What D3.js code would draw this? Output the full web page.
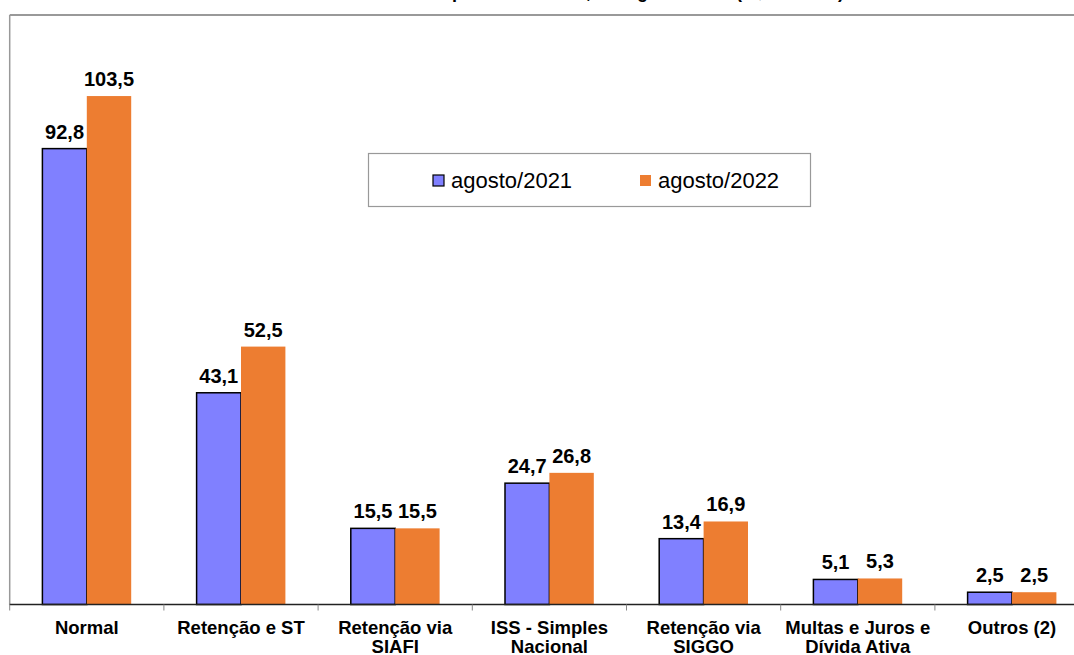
<!DOCTYPE html>
<html>
<head>
<meta charset="utf-8">
<script src="https://cdn.jsdelivr.net/npm/d3@7"></script>
<style>
  body { margin: 0; background: #fff; }
  svg { display: block; font-family: "Liberation Sans", Arial, sans-serif; }
</style>
</head>
<body>
<div id="chart"></div>
<script>
// data (R$ milhões)
const categories = [
  ["Normal"],
  ["Retenção e ST"],
  ["Retenção via", "SIAFI"],
  ["ISS - Simples", "Nacional"],
  ["Retenção via", "SIGGO"],
  ["Multas e Juros e", "Dívida Ativa"],
  ["Outros (2)"]
];
const seriesNames = ["agosto/2021", "agosto/2022"];
const values2021 = [92.8, 43.1, 15.5, 24.7, 13.4, 5.1, 2.5];
const values2022 = [103.5, 52.5, 15.5, 26.8, 16.9, 5.3, 2.5];
const colors = ["#8080FF", "#ED7D31"];
const titleText = "ISS por modalidade, até agosto/2022 (R$ milhões)";

const W = 1074, H = 655;
const svg = d3.select("#chart").append("svg")
  .attr("width", W)
  .attr("height", H);

const catKeys = categories.map(c => c.join(" "));
const x0 = d3.scaleBand().domain(catKeys).range([9.7, 9.7 + 7 * 154.2]);
const x1 = d3.scaleBand().domain(seriesNames).range([32.7, 154.2 - 32.7]);
const y = d3.scaleLinear().domain([0, 120]).range([604.5, 15]);

const fmt = v => d3.format(".1f")(v).replace(".", ",");

// title (mostly outside the picture, as in the original)
svg.append("text")
  .attr("x", 631).attr("y", -2)
  .attr("text-anchor", "middle")
  .style("font-weight", "bold")
  .style("font-size", "18px")
  .text(titleText);

// plot frame: top and left gray lines
svg.append("line")
  .attr("x1", 9.7).attr("x2", W).attr("y1", 15).attr("y2", 15)
  .attr("stroke", "#999").attr("stroke-width", 2);
svg.append("line")
  .attr("x1", 9.7).attr("x2", 9.7).attr("y1", 15).attr("y2", 605)
  .attr("stroke", "#999").attr("stroke-width", 1.5);

// bars
const rows = catKeys.map((k, i) => ({ key: k, vals: [values2021[i], values2022[i]] }));
const groups = svg.selectAll("g.cat")
  .data(rows)
  .enter()
  .append("g")
  .attr("class", "cat")
  .attr("transform", d => `translate(${x0(d.key)},0)`);

groups.selectAll("rect")
  .data(d => d.vals.map((v, j) => ({ s: seriesNames[j], v: v, j: j })))
  .enter()
  .append("rect")
  .attr("x", d => x1(d.s))
  .attr("y", d => y(d.v))
  .attr("width", x1.bandwidth())
  .attr("height", d => y(0) - y(d.v))
  .attr("fill", d => colors[d.j])
  .attr("stroke", d => d.j === 0 ? "#000" : "none")
  .attr("stroke-width", 1.5);

groups.selectAll("text.val")
  .data(d => d.vals.map((v, j) => ({ s: seriesNames[j], v: v, j: j })))
  .enter()
  .append("text")
  .attr("class", "val")
  .attr("x", d => x1(d.s) + x1.bandwidth() / 2)
  .attr("y", d => y(d.v) - 10)
  .attr("text-anchor", "middle")
  .style("font-weight", "bold")
  .style("font-size", "20px")
  .text(d => fmt(d.v));

// x axis
const xAxis = svg.append("g")
  .attr("transform", `translate(0,${y(0)})`)
  .call(d3.axisBottom(x0).tickSize(0).tickPadding(0));
xAxis.select(".domain").remove();
svg.append("line")
  .attr("x1", 9.7).attr("x2", W).attr("y1", y(0)).attr("y2", y(0))
  .attr("stroke", "#222").attr("stroke-width", 1.5);

// separators between categories
svg.selectAll("line.sep")
  .data(catKeys)
  .enter()
  .append("line")
  .attr("class", "sep")
  .attr("x1", d => x0(d)).attr("x2", d => x0(d))
  .attr("y1", y(0)).attr("y2", y(0) + 6)
  .attr("stroke", "#888").attr("stroke-width", 1);

xAxis.selectAll(".tick text")
  .attr("fill", "#000")
  .style("font-family", "'Liberation Sans', Arial, sans-serif")
  .style("font-weight", "bold")
  .style("font-size", "18.5px")
  .attr("dy", null)
  .attr("y", 0)
  .text(null)
  .each(function (d, i) {
    const t = d3.select(this);
    categories[i].forEach((line, k) => {
      t.append("tspan")
        .attr("x", 0)
        .attr("y", 29 + k * 19.4)
        .text(line);
    });
  });

// legend
const legend = svg.append("g");
legend.append("rect")
  .attr("x", 368.5).attr("y", 153.5)
  .attr("width", 442).attr("height", 53)
  .attr("fill", "#fff")
  .attr("stroke", "#999").attr("stroke-width", 1.2);
const legendX = [433, 640];
seriesNames.forEach((s, j) => {
  legend.append("rect")
    .attr("x", legendX[j]).attr("y", 175)
    .attr("width", 11).attr("height", 11)
    .attr("fill", colors[j])
    .attr("stroke", j === 0 ? "#000" : "none")
    .attr("stroke-width", 1.2);
  legend.append("text")
    .attr("x", legendX[j] + 18).attr("y", 188)
    .style("font-size", "22px")
    .text(s);
});
</script>
</body>
</html>
